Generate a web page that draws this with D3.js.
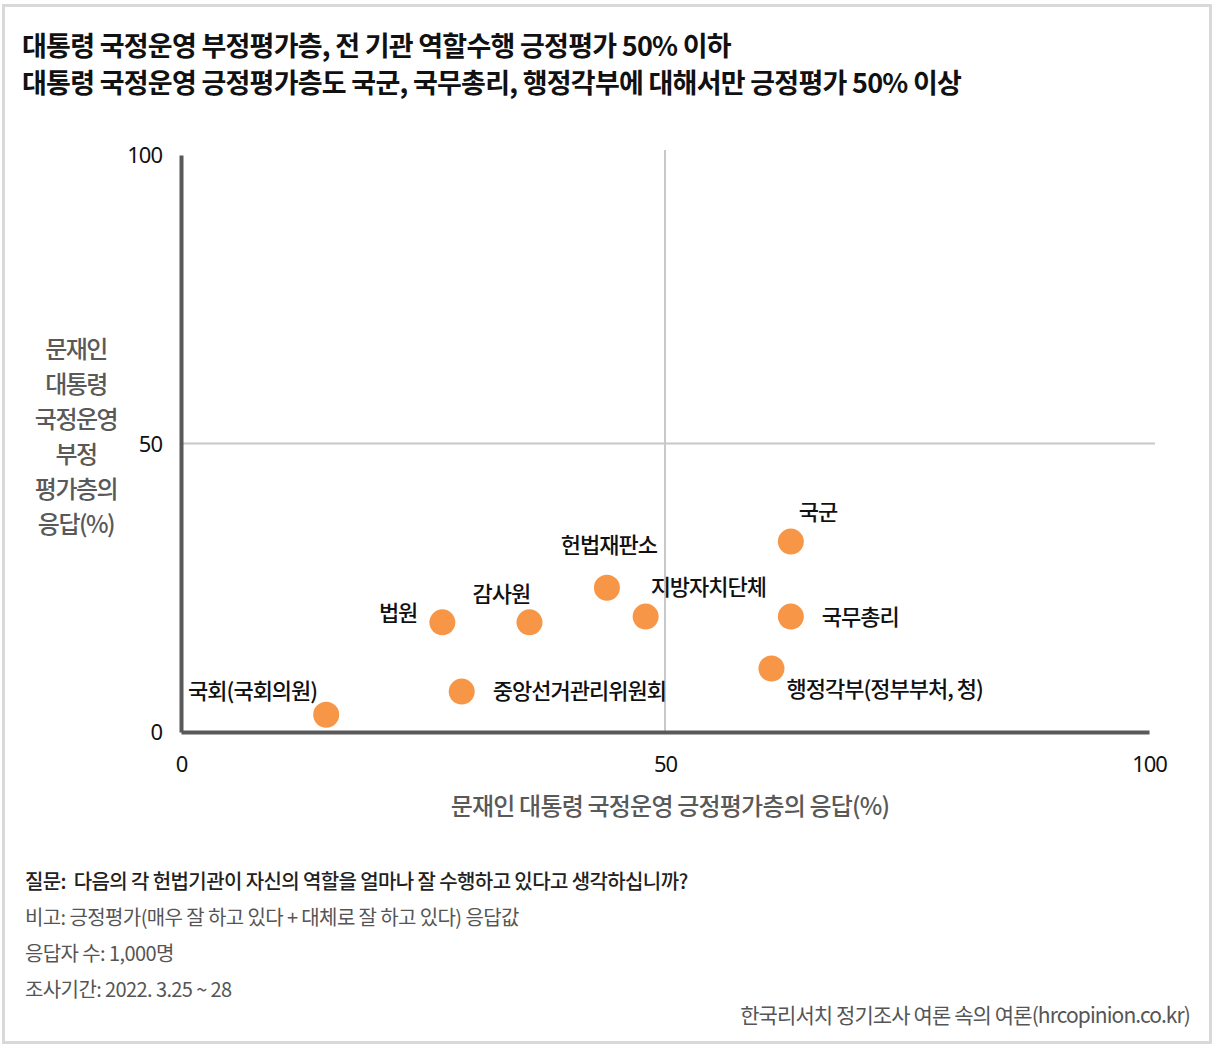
<!DOCTYPE html>
<html>
<head>
<meta charset="utf-8">
<script src="https://cdn.jsdelivr.net/npm/d3@7"></script>
<style>
  body { margin: 0; background: #fff; }
  svg { display: block; font-family: "Noto Sans CJK KR", "Noto Sans", sans-serif; }
  text { white-space: pre; }
</style>
</head>
<body>
<div id="chart"></div>
<script>
// 기관별 응답(%)
const institutions = ['국군', '헌법재판소', '지방자치단체', '국무총리', '감사원', '법원', '행정각부(정부부처, 청)', '중앙선거관리위원회', '국회(국회의원)'];
const positiveGroup = [63, 44, 48, 63, 36, 27, 61, 29, 15];   // x: 긍정평가층
const negativeGroup = [33, 25, 20, 20, 19, 19, 11, 7, 3];      // y: 부정평가층
const ticks = [0, 50, 100];

const titleLines = [
    '대통령 국정운영 부정평가층, 전 기관 역할수행 긍정평가 50% 이하',
    '대통령 국정운영 긍정평가층도 국군, 국무총리, 행정각부에 대해서만 긍정평가 50% 이상'
];
const yTitleLines = ['문재인', '대통령', '국정운영', '부정', '평가층의', '응답(%)'];
const xTitle = '문재인 대통령 국정운영 긍정평가층의 응답(%)';
const notes = [
    '질문:  다음의 각 헌법기관이 자신의 역할을 얼마나 잘 수행하고 있다고 생각하십니까?',
    '비고: 긍정평가(매우 잘 하고 있다 + 대체로 잘 하고 있다) 응답값',
    '응답자 수: 1,000명',
    '조사기간: 2022. 3.25 ~ 28'
];
const source = '한국리서치 정기조사 여론 속의 여론(hrcopinion.co.kr)';

const W = 1216, H = 1045;
const svg = d3.select('#chart').append('svg')
    .attr('width', W)
    .attr('height', H);

// outer frame
svg.append('rect')
    .attr('x', 3.5).attr('y', 5.5)
    .attr('width', W - 9).attr('height', H - 8)
    .attr('fill', 'none')
    .attr('stroke', '#d9d9d9')
    .attr('stroke-width', 3);

// title
svg.append('g').selectAll('text')
    .data(titleLines)
    .enter().append('text')
    .attr('x', 22)
    .attr('y', (d, i) => 56 + i * 37)
    .attr('font-size', 27)
    .attr('font-weight', 700)
    .attr('letter-spacing', '-0.75px')
    .attr('fill', '#111')
    .text(d => d);

const x = d3.scaleLinear().domain([0, 100]).range([181, 1149]);
const y = d3.scaleLinear().domain([0, 100]).range([732, 155]);

// grid lines at 50
svg.append('line')
    .attr('x1', x(50)).attr('x2', x(50))
    .attr('y1', y(100) - 5).attr('y2', y(0))
    .attr('stroke', '#c8c8c8').attr('stroke-width', 2);
svg.append('line')
    .attr('x1', x(0)).attr('x2', x(100) + 6)
    .attr('y1', y(50)).attr('y2', y(50))
    .attr('stroke', '#c8c8c8').attr('stroke-width', 2);

// axes
const xAxis = svg.append('g')
    .attr('transform', 'translate(0,' + y(0) + ')')
    .call(d3.axisBottom(x).tickValues(ticks).tickSize(0).tickPadding(24));
const yAxis = svg.append('g')
    .attr('transform', 'translate(' + x(0) + ',0)')
    .call(d3.axisLeft(y).tickValues(ticks).tickSize(0).tickPadding(19));

[xAxis, yAxis].forEach(g => {
    g.select('.domain').attr('stroke', '#595959').attr('stroke-width', 4);
    g.selectAll('text')
        .attr('font-size', 22)
        .attr('font-family', '"Noto Sans", sans-serif')
        .attr('letter-spacing', '-1px')
        .attr('fill', '#111');
});
yAxis.selectAll('text').attr('dy', '0.35em');

// axis titles
svg.append('g').selectAll('text')
    .data(yTitleLines)
    .enter().append('text')
    .attr('x', 76)
    .attr('y', (d, i) => 358 + i * 35)
    .attr('text-anchor', 'middle')
    .attr('font-size', 24)
    .attr('font-weight', 500)
    .attr('letter-spacing', '-1.5px')
    .attr('fill', '#595959')
    .text(d => d);

svg.append('text')
    .attr('x', 670)
    .attr('y', 815)
    .attr('text-anchor', 'middle')
    .attr('font-size', 24)
    .attr('font-weight', 500)
    .attr('letter-spacing', '-0.8px')
    .attr('fill', '#595959')
    .text(xTitle);

// points
const points = institutions.map((name, i) => ({
    name, px: positiveGroup[i], ny: negativeGroup[i]
}));

svg.append('g').selectAll('circle')
    .data(points)
    .enter().append('circle')
    .attr('cx', d => x(d.px))
    .attr('cy', d => y(d.ny))
    .attr('r', 13)
    .attr('fill', '#f79646');

// label placement per institution
const offsets = {
    '국군': { dx: 8, dy: -29, anchor: 'start' },
    '헌법재판소': { dx: 2, dy: -42, anchor: 'middle' },
    '지방자치단체': { dx: 5, dy: -29, anchor: 'start' },
    '국무총리': { dx: 31, dy: 1, anchor: 'start' },
    '감사원': { dx: -28, dy: -28, anchor: 'middle' },
    '법원': { dx: -25, dy: -9, anchor: 'end' },
    '행정각부(정부부처, 청)': { dx: 15, dy: 21, anchor: 'start' },
    '중앙선거관리위원회': { dx: 31, dy: 0, anchor: 'start' },
    '국회(국회의원)': { dx: -9, dy: -23, anchor: 'end' }
};

svg.append('g').selectAll('text')
    .data(points)
    .enter().append('text')
    .attr('x', d => x(d.px) + offsets[d.name].dx)
    .attr('y', d => y(d.ny) + offsets[d.name].dy)
    .attr('dy', '0.35em')
    .attr('text-anchor', d => offsets[d.name].anchor)
    .attr('font-size', 22)
    .attr('font-weight', 500)
    .attr('letter-spacing', '-1px')
    .attr('fill', '#111')
    .text(d => d.name);

// footnotes
svg.append('g').selectAll('text')
    .data(notes)
    .enter().append('text')
    .attr('x', 25)
    .attr('y', (d, i) => 889 + i * 36)
    .attr('font-size', 20)
    .attr('font-weight', (d, i) => i === 0 ? 500 : 400)
    .attr('letter-spacing', '-0.6px')
    .attr('fill', (d, i) => i === 0 ? '#222' : '#555')
    .text(d => d);

svg.append('text')
    .attr('x', 1190)
    .attr('y', 1023)
    .attr('text-anchor', 'end')
    .attr('font-size', 21)
    .attr('letter-spacing', '-0.9px')
    .attr('fill', '#555')
    .text(source);
</script>
</body>
</html>
